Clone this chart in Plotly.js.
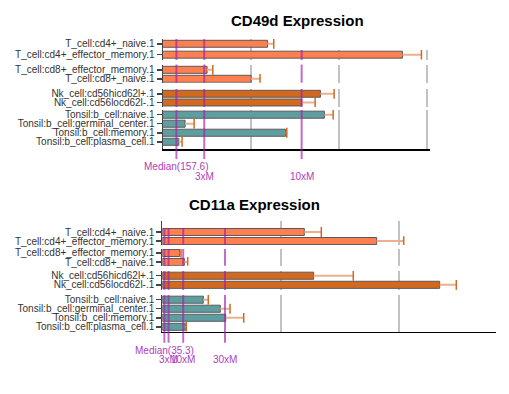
<!DOCTYPE html>
<html><head><meta charset="utf-8">
<script src="https://cdn.plot.ly/plotly-3.0.1.min.js"></script>
<style>html,body{margin:0;padding:0;background:#fff}#chart{width:509px;height:394px}</style>
</head><body><div id="chart"></div>
<script>
// ---- data ----
const cellLabels = ["T_cell:cd4+_naive.1","T_cell:cd4+_effector_memory.1",
  "T_cell:cd8+_effector_memory.1","T_cell:cd8+_naive.1",
  "Nk_cell:cd56hicd62l+.1","Nk_cell:cd56locd62l-.1",
  "Tonsil:b_cell:naive.1","Tonsil:b_cell:germinal_center.1","Tonsil:b_cell:memory.1","Tonsil:b_cell:plasma_cell.1"];
const groupSizes = [2,2,2,4];
const cd49dValues = [1189,2718,505,1004,1789,1578,1834,256,1396,185];
const cd49dErrors = [71,215,65,101,155,151,99,102,12,37];
const cd11aValues = [2399,3621,294,372,2557,4686,693,980,1071,389];
const cd11aErrors = [287,457,22,57,669,280,84,164,304,16];
const cd49dMedian = 157.6;
const cd11aMedian = 35.3;
const cd49dMultiples = [1,3,10];
const cd11aMultiples = [1,3,10,30];
const chartTitles = ["CD49d Expression","CD11a Expression"];

// ---- styling / layout helpers ----
const W = 509, H = 394;
const px = p => p / W;
const py = p => 1 - p / H;
const groupColors = ['#FF7F50','#FF7F50','#D2691E','#5F9EA0'];
const magenta = 'rgba(165,30,170,0.65)';
const labelColor = '#B040B8';

const charts = [
  { values: cd49dValues, errors: cd49dErrors, median: cd49dMedian, mults: cd49dMultiples,
    xl: 162.5, xr: 430, range: [0, 3030], grid: [1000,2000,3000],
    panels: [ {t:39, b:60, r:[1.49,-0.44], w:0.64},
              {t:64.5, b:82.7, r:[1.43,-0.59], w:0.78},
              {t:89, b:107, r:[1.52,-0.55], w:0.8},
              {t:110, b:149, r:[3.8,-0.52], w:0.78} ],
    magTop: 39, magBottom: 159, medLabelY: 166, multLabelY: 176,
    title: {x: 297, y: 21} },
  { values: cd11aValues, errors: cd11aErrors, median: cd11aMedian, mults: cd11aMultiples,
    xl: 162.3, xr: 496, range: [0, 5637], grid: [2000,4000],
    panels: [ {t:221, b:245, r:[1.44,-1.22], w:0.78},
              {t:249, b:265.7, r:[1.41,-0.44], w:0.78},
              {t:271, b:290, r:[1.57,-0.52], w:0.78},
              {t:295, b:331.7, r:[3.54,-0.52], w:0.78} ],
    magTop: 228, magBottom: 342.7, medLabelY: 350, multLabelY: 359,
    title: {x: 254, y: 204} }
];

const traces = [];
const layout = {
  width: W, height: H, margin: {l:0,r:0,t:0,b:0},
  paper_bgcolor: '#fff', plot_bgcolor: 'rgba(0,0,0,0)',
  showlegend: false, hovermode: false,
  font: {family: 'Liberation Sans, Arial, sans-serif', size: 10, color: '#333'},
  shapes: [], annotations: []
};

let yIndex = 0;
charts.forEach((c, ci) => {
  const xName = ci === 0 ? 'x' : 'x2';
  const xKey = ci === 0 ? 'xaxis' : 'xaxis2';
  let start = 0;
  let lastY = null;
  c.panels.forEach((p, gi) => {
    yIndex++;
    const yName = 'y' + (yIndex === 1 ? '' : yIndex);
    const yKey = 'yaxis' + (yIndex === 1 ? '' : yIndex);
    const n = groupSizes[gi];
    const cats = cellLabels.slice(start, start + n);
    const vals = c.values.slice(start, start + n);
    const errs = c.errors.slice(start, start + n);
    start += n;
    traces.push({
      type: 'bar', orientation: 'h', x: vals, y: cats, xaxis: xName, yaxis: yName,
      width: p.w,
      marker: {color: groupColors[gi], line: {color: '#5a5a5a', width: 1}},
      error_x: {type: 'data', symmetric: false, array: errs, arrayminus: errs.map(() => 0),
                color: '#EBB08C', thickness: 2, width: 0}
    });
    traces.push({
      type: 'scatter', mode: 'markers', x: vals.map((v, i) => v + errs[i]), y: cats,
      xaxis: xName, yaxis: yName,
      marker: {symbol: 'line-ns', size: 7, color: '#D2691E', line: {color: '#D2691E', width: 1.5}}
    });
    layout[yKey] = {
      domain: [py(p.b), py(p.t)], anchor: xName, type: 'category',
      categoryorder: 'array', categoryarray: cats, range: p.r, autorange: false,
      tickmode: 'array', tickvals: cats, ticktext: cats,
      showline: true, linecolor: '#444', linewidth: 1, ticks: 'outside', ticklen: 5,
      tickcolor: '#444', tickwidth: 1.5, showgrid: false, zeroline: false,
      tickfont: {size: 10, color: '#333'}, fixedrange: true
    };
    lastY = yName;
    // magenta reference lines in this panel
    const top = gi === 0 ? c.magTop : p.t;
    const bot = gi === c.panels.length - 1 ? c.magBottom : p.b;
    c.mults.forEach(m => {
      layout.shapes.push({type: 'line', xref: xName, yref: 'paper',
        x0: c.median * m, x1: c.median * m, y0: py(bot), y1: py(top),
        line: {color: magenta, width: 2}});
    });
  });
  layout[xKey] = {
    domain: [px(c.xl), px(c.xr)], range: c.range, anchor: lastY,
    tickmode: 'array', tickvals: c.grid, showticklabels: false, ticks: '',
    showgrid: true, gridcolor: '#C2C2C2', gridwidth: 2, zeroline: false,
    showline: true, linecolor: '#000', linewidth: 1.5, fixedrange: true
  };
  // labels for reference lines
  c.mults.forEach(m => {
    layout.annotations.push({xref: xName, yref: 'paper', x: c.median * m,
      y: py(m === 1 ? c.medLabelY : c.multLabelY), yanchor: 'middle', xanchor: 'center',
      showarrow: false, text: m === 1 ? 'Median(' + c.median + ')' : m + 'xM',
      font: {size: 10, color: labelColor}});
  });
  layout.annotations.push({xref: 'paper', yref: 'paper', x: px(c.title.x), y: py(c.title.y),
    xanchor: 'center', yanchor: 'middle', showarrow: false,
    text: '<b>' + chartTitles[ci] + '</b>', font: {size: 15, color: '#000'}});
});

// white patch over the top-right of the first panel (as in the reference)
layout.shapes.push({type: 'rect', xref: 'paper', yref: 'paper', layer: 'above',
  x0: px(286), x1: px(445), y0: py(50), y1: py(30), fillcolor: '#fff', line: {width: 0}});

Plotly.newPlot('chart', traces, layout, {staticPlot: true, displayModeBar: false});
</script></body></html>
